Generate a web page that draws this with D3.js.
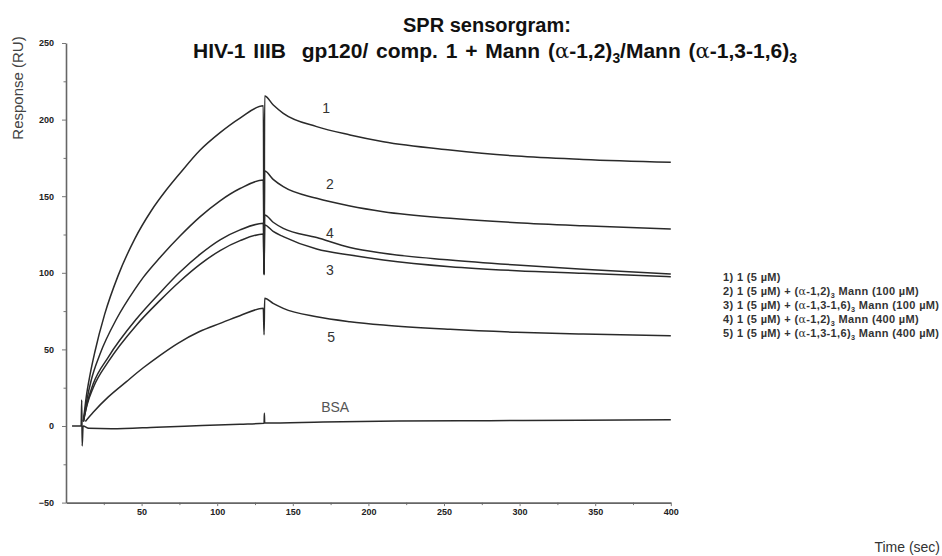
<!DOCTYPE html>
<html>
<head>
<meta charset="utf-8">
<script src="https://cdn.jsdelivr.net/npm/d3@7"></script>
<style>
  body { margin: 0; background: #fff; }
  svg { display: block; }
  text { white-space: pre; }
</style>
</head>
<body>
<div id="chart"></div>
<script>
// values: [time (sec), response (RU)]
var curve1 = [[11.5,3],[13.4,19],[16,34],[19,48],[25.6,73],[34.4,98],[45.4,122],[56.4,140.5],
  [66.3,154],[75.4,165],[88.6,180],[101.9,191.5],[115.1,201],[130.5,209],[131,99],[131.4,215.4],
  [137.1,209.5],[143.7,204.1],[165.8,195.4],[187.8,190],[209.9,185.6],[254,180.2],[298,176.2],[342,174],[400,172.1]];
var curve2 = [[11.5,3],[14,18],[16.7,30],[22.5,47],[33.5,70],[45.4,89],[51.1,97],[62.2,110],
  [75.4,124],[88.6,136.5],[101.9,147],[115.1,155],[130.5,160.6],[131,100],[131.4,166.4],
  [137,161],[143.7,156.2],[165.8,148.6],[187.8,143.6],[209.9,139.9],[254,135.6],[298,132.7],[342,130.7],[400,128.6]];
var curve3 = [[11.5,3],[14,14],[18,25],[28,42],[46.7,66],[62.2,82],[75.4,94.5],[88.6,105.5],
  [101.9,114.5],[115.1,121],[130.5,125.3],[131,98.6],[131.4,131.2],
  [137,127],[143.7,123.6],[165.8,115.5],[187.8,111.6],[209.9,108.4],[254,104],[298,101.4],[342,99.7],[400,97.5]];
var curve4 = [[11.5,3],[14,15],[18,27.5],[28,45],[46.7,70],[62.2,87],[75.4,100.5],[88.6,112],
  [101.9,121.5],[115.1,128],[130.5,132.3],[131,99],[131.4,137.7],
  [137,133],[143.7,129],[165.8,123],[187.8,116.5],[209.9,112.7],[254,108.4],[298,105.1],[342,102.3],[400,99.2]];
var curve5 = [[12.8,3],[18,9],[28,19],[40,29],[51.1,38],[62,46],[74,54],[88,61.5],[101.9,67],
  [115,72],[130.5,76.8],[131,59.5],[131.4,83.4],
  [137,80],[143.7,76.8],[165.8,71.3],[187.8,68.1],[209.9,65.9],[254,63.1],[298,61.2],[342,60],[400,58.9]];
var curveBSA = [[4,0],[10,0],[10.4,17],[10.7,-13],[11.3,0],[15,-1.5],[30,-1.8],[60,-0.8],[90,0.3],
  [115,1.2],[131,1.8],[131.2,8.3],[131.4,2],[170,2.6],[220,3.2],[280,3.5],[340,3.8],[400,4]];

var curves = [curve1, curve2, curve3, curve4, curve5, curveBSA];

// curve labels: [text, time, response]
var curveLabels = [["1",172,207.6],["2",174.6,158],["4",174.6,126],["3",174.6,101.8],["5",175.3,58.1]];
var bsaLabel = ["BSA",178,12.4];

var yTicks = [-50, 0, 50, 100, 150, 200, 250];
var yMinor = [-25, 25, 75, 125, 175, 225];
var xTicks = [50, 100, 150, 200, 250, 300, 350, 400];
var xMinor = [25, 75, 125, 175, 225, 275, 325, 375];

var legendItems = [
  "1) 1 (5 \u00b5M)",
  "2) 1 (5 \u00b5M) + (\u03b1-1,2)_3 Mann (100 \u00b5M)",
  "3) 1 (5 \u00b5M) + (\u03b1-1,3-1,6)_3 Mann (100 \u00b5M)",
  "4) 1 (5 \u00b5M) + (\u03b1-1,2)_3 Mann (400 \u00b5M)",
  "5) 1 (5 \u00b5M) + (\u03b1-1,3-1,6)_3 Mann (400 \u00b5M)"
];
var titleLines = ["SPR sensorgram:", "HIV-1 IIIB  gp120/ comp. 1 + Mann (\u03b1-1,2)_3/Mann (\u03b1-1,3-1,6)_3"];

var width = 942, height = 556;
var sans = "'Liberation Sans', Arial, sans-serif";
var narrow = "'Liberation Sans Narrow', 'Arial Narrow', 'Liberation Sans', sans-serif";

var svg = d3.select("#chart").append("svg")
    .attr("width", width)
    .attr("height", height);

var x = d3.scaleLinear().domain([0, 400]).range([66, 670.8]);
var y = d3.scaleLinear().domain([-50, 250]).range([502.6, 43]);

// text with a serif alpha and subscript 3
function rich(sel, str, size) {
  var parts = str.split(/(\u03b1|_3)/);
  var shifted = false;
  parts.forEach(function(p) {
    if (!p) return;
    var t;
    if (p === "_3") {
      sel.append("tspan").attr("dy", size * 0.28).style("font-size", (size * 0.66) + "px").text("3");
      shifted = true;
      return;
    }
    t = sel.append("tspan").text(p);
    if (shifted) { t.attr("dy", -size * 0.28); shifted = false; }
    if (p === "\u03b1") t.style("font-family", "'DejaVu Serif', 'Liberation Serif', serif").style("font-weight", "normal");
  });
}

// Y axis
svg.append("g")
    .attr("transform", "translate(" + x(0) + ",0)")
    .call(d3.axisLeft(y).tickValues(yMinor).tickSize(2.5).tickFormat(""))
    .call(function(g) { g.select(".domain").remove(); });
svg.append("g")
    .attr("transform", "translate(" + x(0) + ",0)")
    .call(d3.axisLeft(y).tickValues(yTicks).tickSize(4).tickPadding(8).tickSizeOuter(0));

// X axis
svg.append("g")
    .attr("transform", "translate(0," + y(-50) + ")")
    .call(d3.axisBottom(x).tickValues(xMinor).tickSize(2.5).tickFormat(""))
    .call(function(g) { g.select(".domain").remove(); });
svg.append("g")
    .attr("transform", "translate(0," + y(-50) + ")")
    .call(d3.axisBottom(x).tickValues(xTicks).tickSize(3.5).tickPadding(3).tickSizeOuter(0));

svg.selectAll(".domain").attr("stroke", "#666").attr("stroke-width", 1.6);
svg.selectAll(".tick line").attr("stroke", "#777");
svg.selectAll(".tick text")
    .style("font-family", narrow)
    .style("font-weight", "bold")
    .style("font-size", "9px")
    .attr("fill", "#222");

// curves
var line = d3.line()
    .x(function(d) { return x(d[0]); })
    .y(function(d) { return y(d[1]); })
    .curve(d3.curveMonotoneX);

svg.append("g")
  .selectAll("path")
  .data(curves)
  .enter().append("path")
    .attr("d", line)
    .attr("fill", "none")
    .attr("stroke", "#2a2a2a")
    .attr("stroke-width", 1.5)
    .attr("stroke-linejoin", "round");

// curve labels
svg.append("g")
  .selectAll("text")
  .data(curveLabels)
  .enter().append("text")
    .attr("x", function(d) { return x(d[1]); })
    .attr("y", function(d) { return y(d[2]); })
    .attr("dy", "0.36em")
    .attr("text-anchor", "middle")
    .style("font-family", sans)
    .style("font-size", "14px")
    .attr("fill", "#333")
    .text(function(d) { return d[0]; });

svg.append("text")
    .attr("x", x(bsaLabel[1]))
    .attr("y", y(bsaLabel[2]))
    .attr("dy", "0.36em")
    .attr("text-anchor", "middle")
    .style("font-family", sans)
    .style("font-size", "14px")
    .attr("fill", "#555")
    .text(bsaLabel[0]);

// title
var t1 = svg.append("text").attr("x", 403).attr("y", 31.5)
    .style("font-family", sans).style("font-weight", "bold").style("font-size", "20px").attr("fill", "#111");
rich(t1, titleLines[0], 20);
var t2 = svg.append("text").attr("x", 193).attr("y", 57.5)
    .style("font-family", sans).style("font-weight", "bold").style("font-size", "21px")
    .style("word-spacing", "2px").attr("fill", "#111");
rich(t2, titleLines[1], 21);

// axis titles
svg.append("text")
    .attr("transform", "translate(23,88) rotate(-90)")
    .attr("text-anchor", "middle")
    .style("font-family", sans)
    .style("font-size", "15px")
    .attr("fill", "#444")
    .text("Response (RU)");

svg.append("text")
    .attr("x", 940)
    .attr("y", 552)
    .attr("text-anchor", "end")
    .style("font-family", sans)
    .style("font-size", "14px")
    .attr("fill", "#333")
    .text("Time (sec)");

// legend
var legend = svg.append("g").attr("transform", "translate(723,280.5)");
legendItems.forEach(function(s, i) {
  var t = legend.append("text")
      .attr("x", 0)
      .attr("y", i * 14.2)
      .style("font-family", sans)
      .style("font-weight", "bold")
      .style("font-size", "11px")
      .style("letter-spacing", "0.35px")
      .attr("fill", "#333");
  rich(t, s, 11);
});
</script>
</body>
</html>
